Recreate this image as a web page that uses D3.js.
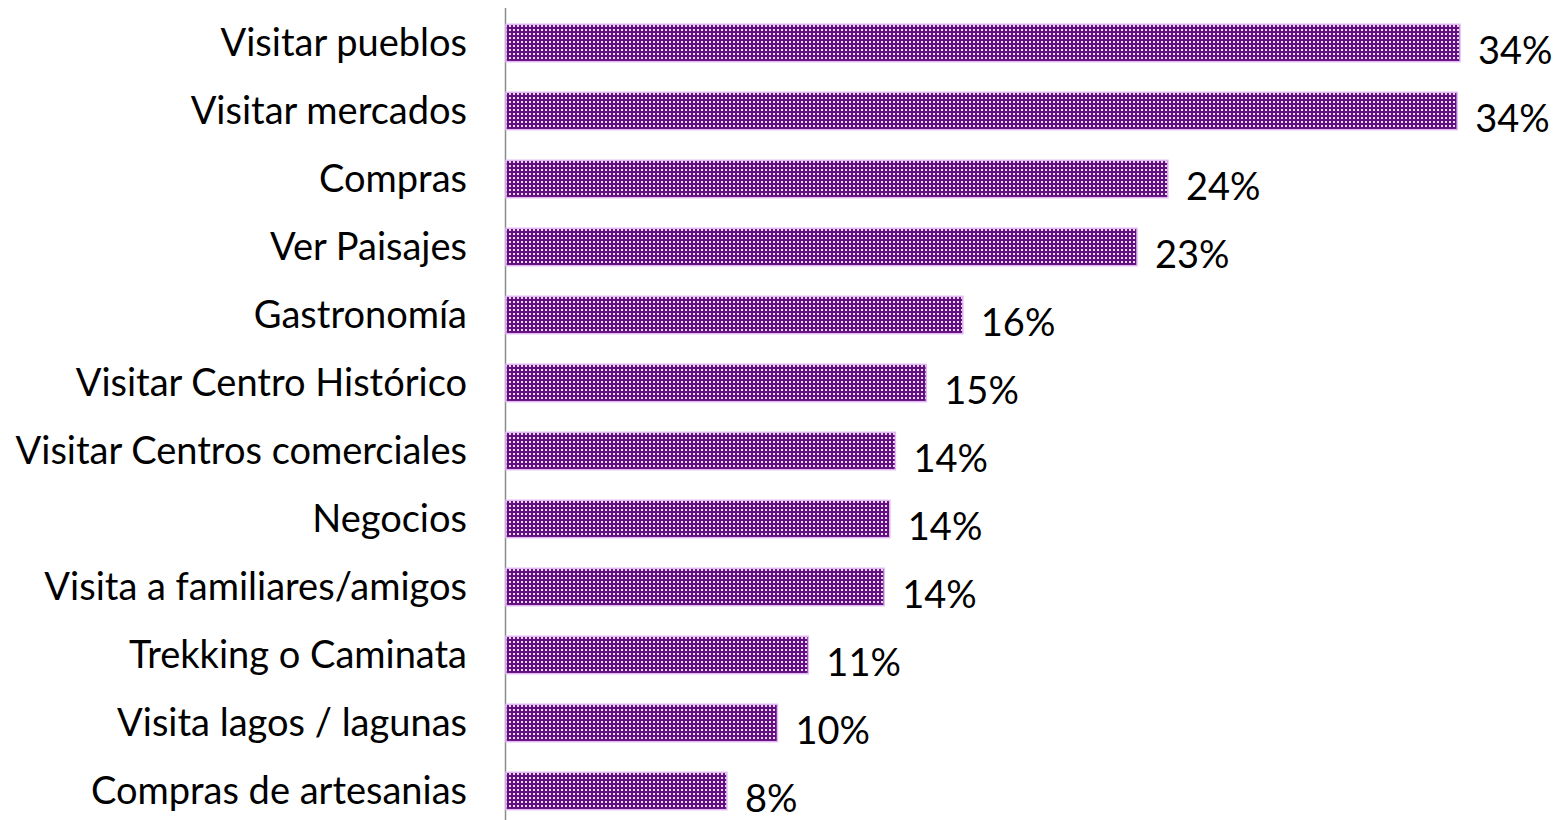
<!DOCTYPE html>
<html>
<head>
<meta charset="utf-8">
<script src="https://cdn.jsdelivr.net/npm/d3@7"></script>
<style>
  body { margin: 0; background: #fff; }
  text { font-family: Lato, "Open Sans", sans-serif; fill: #000; }
</style>
</head>
<body>
<div id="chart"></div>
<script>
var categories = [
  'Visitar pueblos',
  'Visitar mercados',
  'Compras',
  'Ver Paisajes',
  'Gastronomía',
  'Visitar Centro Histórico',
  'Visitar Centros comerciales',
  'Negocios',
  'Visita a familiares/amigos',
  'Trekking o Caminata',
  'Visita lagos / lagunas',
  'Compras de artesanias'
];
var values = [34.0, 33.9, 23.6, 22.5, 16.3, 15.0, 13.9, 13.7, 13.5, 10.8, 9.7, 7.9];
var valueLabels = ['34%', '34%', '24%', '23%', '16%', '15%', '14%', '14%', '14%', '11%', '10%', '8%'];

var width = 1554,
    height = 820;

var svg = d3.select('#chart').append('svg').attr('width', width).attr('height', height);

// dotted fill like the original
var defs = svg.append('defs');
var pat = defs.append('pattern')
  .attr('id', 'dots')
  .attr('patternUnits', 'userSpaceOnUse')
  .attr('width', 4)
  .attr('height', 4);
pat.append('rect').attr('width', 4).attr('height', 4).attr('fill', '#62107f');
pat.append('rect').attr('x', 1).attr('y', 1).attr('width', 2).attr('height', 2).attr('fill', '#e9d6f0');

var xScale = d3.scaleLinear()
  .domain([0, 34.0])
  .range([505, 1460]);

var yScale = d3.scaleBand()
  .domain(categories)
  .range([9, 825])
  .paddingInner(0.45)
  .paddingOuter(0.225);

// category axis
var yAxis = d3.axisLeft(yScale).tickSize(0).tickPadding(38);
var yAxisG = svg.append('g')
  .attr('transform', 'translate(505,0)')
  .call(yAxis);
yAxisG.select('.domain').remove();
yAxisG.selectAll('text')
  .style('font-family', 'Lato, "Open Sans", sans-serif')
  .style('font-size', '38px')
  .attr('dy', '0.34em')
  .attr('fill', '#000');

svg.append('line')
  .attr('x1', 505.5).attr('x2', 505.5)
  .attr('y1', 8).attr('y2', height)
  .attr('stroke', '#8c8c8c')
  .attr('stroke-width', 1.5);

svg.append('g').selectAll('rect')
  .data(values)
  .enter().append('rect')
  .attr('x', xScale(0) + 1)
  .attr('y', function(d, i) { return yScale(categories[i]); })
  .attr('width', function(d) { return xScale(d) - xScale(0) - 1; })
  .attr('height', yScale.bandwidth())
  .attr('fill', 'url(#dots)')
  .attr('stroke', '#e3b8f2')
  .attr('stroke-width', 1.5);

svg.append('g').selectAll('text')
  .data(values)
  .enter().append('text')
  .attr('x', function(d) { return xScale(d) + 18; })
  .attr('y', function(d, i) { return yScale(categories[i]) + yScale.bandwidth() / 2 + 8; })
  .attr('dy', '0.35em')
  .style('font-size', '38px')
  .text(function(d, i) { return valueLabels[i]; });
</script>
</body>
</html>
